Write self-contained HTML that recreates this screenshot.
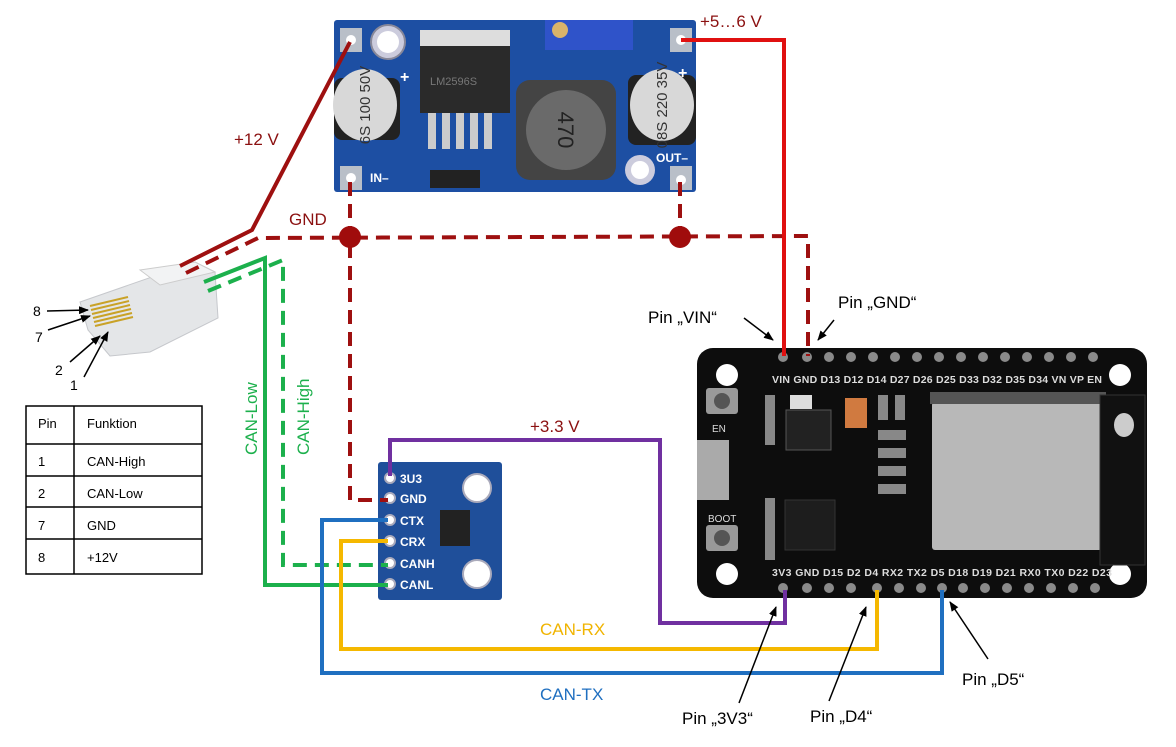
<!DOCTYPE html>
<html><head><meta charset="utf-8"><style>
html,body{margin:0;padding:0;background:#fff;}
svg{display:block;font-family:"Liberation Sans","DejaVu Sans",sans-serif;}
</style></head><body>
<svg width="1176" height="747" viewBox="0 0 1176 747" xmlns="http://www.w3.org/2000/svg">
<defs>
<marker id="ar" markerWidth="10" markerHeight="8" refX="9" refY="4" orient="auto" markerUnits="userSpaceOnUse"><path d="M0,0 L10,4 L0,8 z" fill="#000"/></marker>
</defs>
<rect width="1176" height="747" fill="#fff"/>

<!-- LM2596 module -->
<rect x="334" y="20" width="362" height="172" rx="3" fill="#1d4fa3"/>
<rect x="340" y="28" width="22" height="24" fill="#b9bfc8"/><circle cx="351" cy="40" r="5" fill="#fff"/>
<rect x="340" y="166" width="22" height="24" fill="#b9bfc8"/><circle cx="351" cy="178" r="5" fill="#fff"/>
<rect x="670" y="28" width="22" height="24" fill="#b9bfc8"/><circle cx="681" cy="40" r="5" fill="#fff"/>
<rect x="670" y="166" width="22" height="24" fill="#b9bfc8"/><circle cx="681" cy="180" r="5" fill="#fff"/>
<circle cx="388" cy="42" r="17" fill="#ccd" stroke="#889" stroke-width="2"/><circle cx="388" cy="42" r="11" fill="#fff"/>
<rect x="334" y="78" width="66" height="62" rx="8" fill="#222"/>
<ellipse cx="365" cy="105" rx="32" ry="36" fill="#d8d8d8"/>
<text x="365" y="110" font-size="15" fill="#333" text-anchor="middle" transform="rotate(-90 365 105)">6S 100 50V</text>
<rect x="420" y="38" width="90" height="75" fill="#2a2a2a"/>
<rect x="420" y="30" width="90" height="16" fill="#ddd"/>
<g fill="#ccc"><rect x="428" y="113" width="8" height="36"/><rect x="442" y="113" width="8" height="36"/><rect x="456" y="113" width="8" height="36"/><rect x="470" y="113" width="8" height="36"/><rect x="484" y="113" width="8" height="36"/></g>
<text x="430" y="85" font-size="11" fill="#777">LM2596S</text>
<rect x="430" y="170" width="50" height="18" fill="#222"/>
<rect x="516" y="80" width="100" height="100" rx="14" fill="#444"/>
<circle cx="566" cy="130" r="40" fill="#6a6a6a"/>
<text x="566" y="138" font-size="22" fill="#222" text-anchor="middle" transform="rotate(90 566 130)">470</text>
<rect x="545" y="20" width="88" height="30" fill="#2f53c9"/>
<circle cx="560" cy="30" r="8" fill="#d9b36a"/>
<rect x="628" y="75" width="68" height="70" rx="8" fill="#222"/>
<ellipse cx="662" cy="105" rx="32" ry="36" fill="#d8d8d8"/>
<text x="662" y="110" font-size="15" fill="#333" text-anchor="middle" transform="rotate(-90 662 105)">08S 220 35V</text>
<circle cx="640" cy="170" r="15" fill="#ccd"/><circle cx="640" cy="170" r="9" fill="#fff"/>
<text x="370" y="182" font-size="12" fill="#fff" font-weight="bold">IN–</text>
<text x="656" y="162" font-size="12" fill="#fff" font-weight="bold">OUT–</text>
<text x="400" y="82" font-size="16" fill="#fff" font-weight="bold">+</text>
<text x="678" y="78" font-size="16" fill="#fff" font-weight="bold">+</text>

<!-- ESP32 board -->
<rect x="697" y="348" width="450" height="250" rx="16" fill="#0d0d0d"/>
<circle cx="727" cy="375" r="11" fill="#fff"/><circle cx="1120" cy="375" r="11" fill="#fff"/>
<circle cx="727" cy="574" r="11" fill="#fff"/><circle cx="1120" cy="574" r="11" fill="#fff"/>
<g fill="#8a8a8a">
<circle cx="783" cy="357" r="5"/><circle cx="807" cy="357" r="5"/><circle cx="829" cy="357" r="5"/><circle cx="851" cy="357" r="5"/><circle cx="873" cy="357" r="5"/><circle cx="895" cy="357" r="5"/><circle cx="917" cy="357" r="5"/><circle cx="939" cy="357" r="5"/><circle cx="961" cy="357" r="5"/><circle cx="983" cy="357" r="5"/><circle cx="1005" cy="357" r="5"/><circle cx="1027" cy="357" r="5"/><circle cx="1049" cy="357" r="5"/><circle cx="1071" cy="357" r="5"/><circle cx="1093" cy="357" r="5"/>
<circle cx="783" cy="588" r="5"/><circle cx="807" cy="588" r="5"/><circle cx="829" cy="588" r="5"/><circle cx="851" cy="588" r="5"/><circle cx="877" cy="588" r="5"/><circle cx="899" cy="588" r="5"/><circle cx="921" cy="588" r="5"/><circle cx="942" cy="588" r="5"/><circle cx="963" cy="588" r="5"/><circle cx="985" cy="588" r="5"/><circle cx="1007" cy="588" r="5"/><circle cx="1029" cy="588" r="5"/><circle cx="1051" cy="588" r="5"/><circle cx="1073" cy="588" r="5"/><circle cx="1095" cy="588" r="5"/>
</g>
<text x="772" y="383" font-size="10.5" fill="#ddd" font-weight="bold" textLength="330">VIN GND D13 D12 D14 D27 D26 D25 D33 D32 D35 D34 VN VP EN</text>
<text x="772" y="576" font-size="10.5" fill="#ddd" font-weight="bold" textLength="340">3V3 GND D15 D2 D4 RX2 TX2 D5 D18 D19 D21 RX0 TX0 D22 D23</text>
<rect x="932" y="402" width="170" height="148" rx="3" fill="#b8b8b8"/>
<rect x="930" y="392" width="176" height="12" fill="#555"/>
<rect x="1100" y="395" width="45" height="170" fill="#111" stroke="#333"/>
<ellipse cx="1124" cy="425" rx="10" ry="12" fill="#ccc"/>
<rect x="697" y="440" width="32" height="60" fill="#aaa"/>
<rect x="706" y="388" width="32" height="26" rx="3" fill="#999"/><circle cx="722" cy="401" r="8" fill="#555"/>
<rect x="706" y="525" width="32" height="26" rx="3" fill="#999"/><circle cx="722" cy="538" r="8" fill="#555"/>
<text x="712" y="432" font-size="10" fill="#ddd">EN</text>
<text x="708" y="522" font-size="10" fill="#ddd">BOOT</text>
<rect x="786" y="410" width="45" height="40" fill="#222" stroke="#555"/>
<rect x="790" y="395" width="22" height="14" fill="#ddd"/>
<rect x="845" y="398" width="22" height="30" fill="#d07a40"/>
<rect x="785" y="500" width="50" height="50" fill="#1d1d1d" stroke="#333"/>
<g fill="#888"><rect x="878" y="395" width="10" height="25"/><rect x="895" y="395" width="10" height="25"/><rect x="878" y="430" width="28" height="10"/><rect x="878" y="448" width="28" height="10"/><rect x="878" y="466" width="28" height="10"/><rect x="878" y="484" width="28" height="10"/><rect x="765" y="395" width="10" height="50"/><rect x="765" y="498" width="10" height="62"/></g>

<!-- CAN module -->
<rect x="378" y="462" width="124" height="138" rx="3" fill="#1f4f9a"/>
<circle cx="477" cy="488" r="14" fill="#fff" stroke="#aab" stroke-width="2"/>
<circle cx="477" cy="574" r="14" fill="#fff" stroke="#aab" stroke-width="2"/>
<rect x="440" y="510" width="30" height="36" fill="#222"/>
<g fill="#fff" stroke="#aab" stroke-width="2"><circle cx="390" cy="478" r="5"/><circle cx="390" cy="498" r="5"/><circle cx="390" cy="520" r="5"/><circle cx="390" cy="541" r="5"/><circle cx="390" cy="563" r="5"/><circle cx="390" cy="584" r="5"/></g>
<g font-size="12" fill="#fff" font-weight="bold"><text x="400" y="483">3U3</text><text x="400" y="503">GND</text><text x="400" y="525">CTX</text><text x="400" y="546">CRX</text><text x="400" y="568">CANH</text><text x="400" y="589">CANL</text></g>

<!-- RJ45 connector -->
<path d="M80,302 L195,262 L215,272 L218,318 L150,352 L110,356 L88,330 Z" fill="#e4e6e8" stroke="#c6c8cc"/>
<path d="M140,270 L195,262 L215,272 L160,285 Z" fill="#f2f3f4" stroke="#ccc"/>
<g stroke="#c9a227" stroke-width="2"><line x1="90" y1="306" x2="128" y2="297"/><line x1="91" y1="310" x2="129" y2="301"/><line x1="92" y1="314" x2="130" y2="305"/><line x1="93" y1="318" x2="131" y2="309"/><line x1="94" y1="322" x2="132" y2="313"/><line x1="95" y1="326" x2="133" y2="317"/></g>
<g stroke="#000" stroke-width="1.5" fill="none" marker-end="url(#ar)">
<line x1="47" y1="311" x2="88" y2="310"/><line x1="48" y1="330" x2="90" y2="316"/>
<line x1="70" y1="362" x2="100" y2="336"/><line x1="84" y1="377" x2="108" y2="332"/>
</g>
<g font-size="14" fill="#000"><text x="33" y="316">8</text><text x="35" y="342">7</text><text x="55" y="375">2</text><text x="70" y="390">1</text></g>

<!-- table -->
<g stroke="#000" stroke-width="1.5" fill="none">
<rect x="26" y="406" width="176" height="168"/>
<line x1="74" y1="406" x2="74" y2="574"/>
<line x1="26" y1="444" x2="202" y2="444"/><line x1="26" y1="476" x2="202" y2="476"/><line x1="26" y1="507" x2="202" y2="507"/><line x1="26" y1="539" x2="202" y2="539"/>
</g>
<g font-size="13" fill="#000"><text x="38" y="428">Pin</text><text x="87" y="428">Funktion</text>
<text x="38" y="466">1</text><text x="87" y="466">CAN-High</text>
<text x="38" y="498">2</text><text x="87" y="498">CAN-Low</text>
<text x="38" y="530">7</text><text x="87" y="530">GND</text>
<text x="38" y="562">8</text><text x="87" y="562">+12V</text></g>

<!-- wires -->
<g fill="none" stroke-width="4">
<polyline points="180,266 252,230 350,42" stroke="#9e1010"/>
<polyline points="186,273 258,238 808,236 808,356" stroke="#9e1010" stroke-dasharray="14,8"/>
<line x1="350" y1="182" x2="350" y2="236" stroke="#9e1010" stroke-dasharray="14,8"/>
<polyline points="350,244 350,500 388,500" stroke="#9e1010" stroke-dasharray="14,8"/>
<line x1="680" y1="182" x2="680" y2="236" stroke="#9e1010" stroke-dasharray="14,8"/>
<polyline points="681,40 784,40 784,356" stroke="#e01010"/>
<polyline points="204,282 265,258 265,585 388,585" stroke="#1cb04c"/>
<polyline points="208,291 283,260 283,565 388,565" stroke="#1cb04c" stroke-dasharray="14,8"/>
<polyline points="390,476 390,440 660,440 660,623 785,623 785,590" stroke="#7030a0"/>
<polyline points="388,541 341,541 341,649 877,649 877,590" stroke="#f5b800"/>
<polyline points="388,520 322,520 322,673 942,673 942,590" stroke="#1f6fc0"/>
</g>
<circle cx="350" cy="237" r="11" fill="#a00c0c"/>
<circle cx="680" cy="237" r="11" fill="#a00c0c"/>

<!-- labels -->
<g font-size="17" fill="#8b1010"><text x="234" y="145">+12 V</text><text x="289" y="225">GND</text><text x="700" y="27">+5…6 V</text><text x="530" y="432">+3.3 V</text></g>
<text x="540" y="635" font-size="17" fill="#f0b400">CAN-RX</text>
<text x="540" y="700" font-size="17" fill="#1f6fc0">CAN-TX</text>
<text x="257" y="455" font-size="17" fill="#1cb04c" transform="rotate(-90 257 455)">CAN-Low</text>
<text x="309" y="455" font-size="17" fill="#1cb04c" transform="rotate(-90 309 455)">CAN-High</text>
<g font-size="17" fill="#000"><text x="648" y="323">Pin „VIN“</text><text x="838" y="308">Pin „GND“</text><text x="962" y="685">Pin „D5“</text><text x="682" y="724">Pin „3V3“</text><text x="810" y="722">Pin „D4“</text></g>
<g stroke="#000" stroke-width="1.5" fill="none" marker-end="url(#ar)">
<line x1="744" y1="318" x2="773" y2="340"/>
<line x1="834" y1="320" x2="818" y2="340"/>
<line x1="988" y1="659" x2="950" y2="602"/>
<line x1="739" y1="703" x2="776" y2="607"/>
<line x1="829" y1="701" x2="866" y2="607"/>
</g>
</svg>
</body></html>
